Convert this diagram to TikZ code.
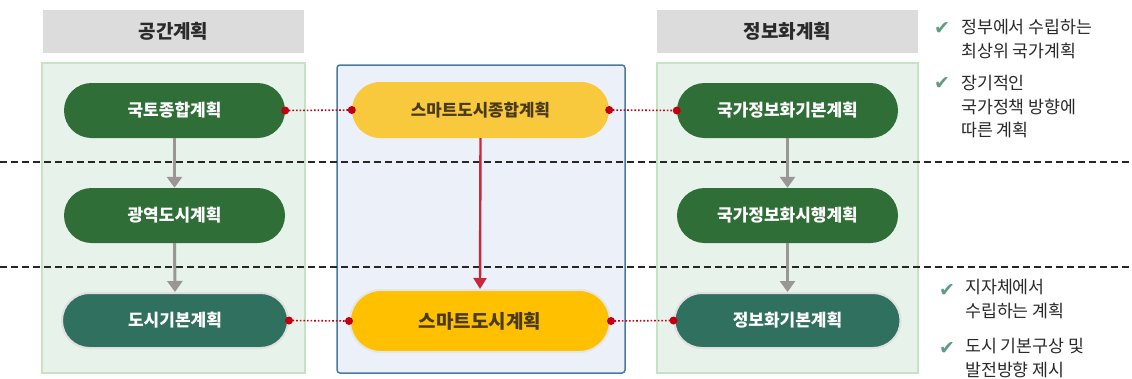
\documentclass[tikz,border=0pt]{standalone}
\usepackage{fontspec}
\setmainfont{Noto Sans CJK KR}
\newfontfamily\symfont{DejaVu Sans}
\usetikzlibrary{arrows.meta,shapes.misc}
\definecolor{hdrgray}{HTML}{DCDCDC}
\definecolor{panelgreen}{HTML}{E6F2EA}
\definecolor{panelgreenline}{HTML}{C6E2C6}
\definecolor{panelblue}{HTML}{ECF0F8}
\definecolor{panelblueline}{HTML}{4A7A9C}
\definecolor{darkgreen}{HTML}{2F6E37}
\definecolor{tealgreen}{HTML}{2F705E}
\definecolor{yellowA}{HTML}{F8C93C}
\definecolor{yellowB}{HTML}{FFC000}
\definecolor{browntext}{HTML}{4A3A1C}
\definecolor{dotred}{HTML}{C00010}
\definecolor{arrred}{HTML}{C8283C}
\definecolor{arrgray}{HTML}{9A9696}
\definecolor{checkgreen}{HTML}{5E9C80}
\definecolor{txtgray}{HTML}{2A2A2A}
\tikzset{
  hdr/.style={fill=hdrgray,draw=none,minimum width=261pt,minimum height=43pt,font=\fontsize{19}{22}\selectfont\bfseries,text=txtgray},
  pill/.style={rounded rectangle,draw=none,minimum width=221pt,minimum height=55pt,font=\fontsize{17}{20}\selectfont\bfseries,text=white,inner sep=0pt},
  gpill/.style={pill,fill=darkgreen},
  tpill/.style={pill,fill=tealgreen,draw=black!12,line width=2pt,minimum width=226pt},
  ypill/.style={pill,text=browntext},
  dotlink/.style={draw=dotred,dotted,line width=1.6pt},
  enddot/.style={circle,fill=dotred,inner sep=0pt,minimum size=8pt},
  garrow/.style={draw=arrgray,line width=3pt,-{Triangle[length=11pt,width=15pt]}},
  rarrow/.style={draw=arrred,line width=2.4pt,-{Triangle[length=11pt,width=13pt]}},
  note/.style={anchor=west,font=\fontsize{17.3}{20}\selectfont,text=txtgray,inner sep=0pt},
  chk/.style={anchor=center,font=\symfont\fontsize{19}{20}\selectfont,text=checkgreen,inner sep=0pt},
  sepline/.style={draw=black!85,dashed,dash pattern=on 7pt off 4pt,line width=1.4pt}
}
\begin{document}
\begin{tikzpicture}[x=1pt,y=-1pt]
\useasboundingbox[fill=white] (0,0) rectangle (1132,378);
% panels
\fill[panelgreen,draw=panelgreenline,line width=1.5pt] (42,63) rectangle (305,373);
\fill[panelgreen,draw=panelgreenline,line width=1.5pt] (657,63) rectangle (918,373);
\fill[panelblue,draw=panelblueline,line width=1.5pt,rounded corners=3pt] (337,65) rectangle (625,373);
% headers
\node[hdr] (h1) at (173.5,31.5) {공간계획};
\node[hdr] (h2) at (787.5,31.5) {정보화계획};
% separators
\draw[sepline] (0,162) -- (1132,162);
\draw[sepline] (0,267) -- (1132,267);
% left nodes
\node[gpill] (a1) at (174.5,110.5) {국토종합계획};
\node[gpill] (a2) at (174.5,215.5) {광역도시계획};
\node[tpill] (a3) at (175,320.5) {도시기본계획};
% middle
\node[ypill,fill=yellowA,minimum width=257pt,minimum height=56pt,font=\fontsize{16.8}{20}\selectfont\bfseries] (m1) at (480.5,110) {스마트도시종합계획};
\node[ypill,fill=yellowB,draw=black!10,line width=2pt,minimum width=260pt,minimum height=62pt,font=\fontsize{19}{22}\selectfont\bfseries] (m2) at (480,321) {스마트도시계획};
% right nodes
\node[gpill] (b1) at (787.5,110.5) {국가정보화기본계획};
\node[gpill] (b2) at (787.5,215.5) {국가정보화시행계획};
\node[tpill] (b3) at (787.5,320.5) {정보화기본계획};
% arrows
\draw[garrow] (a1.south) -- (a2.north);
\draw[garrow] (a2.south) -- (a3.north);
\draw[garrow] (b1.south) -- (b2.north);
\draw[garrow] (b2.south) -- (b3.north);
\draw[rarrow] (m1.south) -- (m2.north);
% dotted links
\draw[dotlink] (a1.east) -- (m1.west);
\draw[dotlink] (m1.east) -- (b1.west);
\draw[dotlink] (a3.east) -- (m2.west);
\draw[dotlink] (m2.east) -- (b3.west);
\foreach \p in {a1.east,m1.west,m1.east,b1.west,a3.east,m2.west,m2.east,b3.west}
  \node[enddot] at (\p) {};
% notes
\node[chk] (c1) at (942,29) {✔};
\node[note] (n1) at (961,27) {정부에서 수립하는};
\node[note] (n2) at (961,51) {최상위 국가계획};
\node[chk] (c2) at (942,84) {✔};
\node[note] (n3) at (961,83) {장기적인};
\node[note] (n4) at (961,107) {국가정책 방향에};
\node[note] (n5) at (961,130) {따른 계획};
\node[chk] (c3) at (947,291) {✔};
\node[note] (n6) at (965,287) {지자체에서};
\node[note] (n7) at (965,311) {수립하는 계획};
\node[chk] (c4) at (947,349) {✔};
\node[note] (n8) at (965,346) {도시 기본구상 및};
\node[note] (n9) at (965,370) {발전방향 제시};
\end{tikzpicture}
\end{document}
